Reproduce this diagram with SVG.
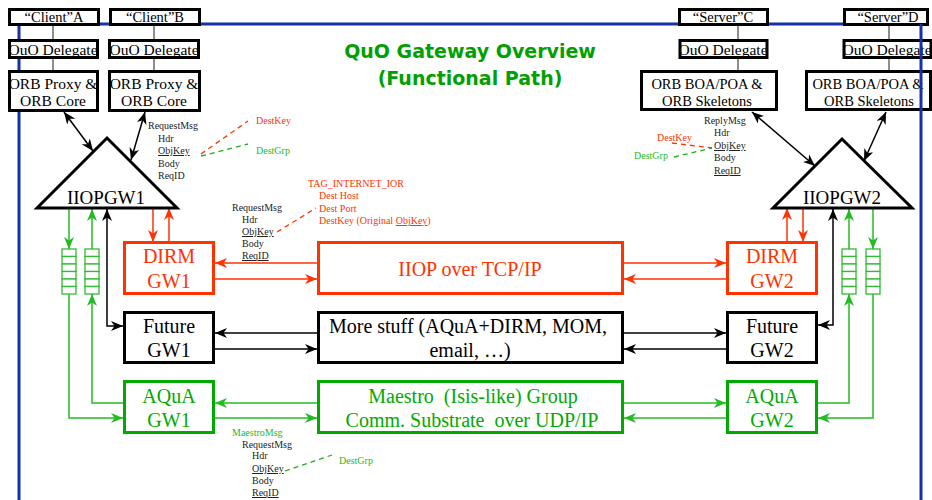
<svg xmlns="http://www.w3.org/2000/svg" width="932" height="500" viewBox="0 0 932 500">
<style>
.bx{fill:#fff;stroke:#000;stroke-width:3}
.rb{fill:#fff;stroke:#ff3300;stroke-width:3}
.gb{fill:#fff;stroke:#00aa00;stroke-width:3}
.t{font-family:"Liberation Serif","Times New Roman",serif;fill:#000}
.ts{font-size:15.5px;text-anchor:middle}
.tc{font-size:14.5px;text-anchor:middle}
.tb{font-size:20px;text-anchor:middle}
.sm{font-family:"Liberation Serif","Times New Roman",serif;font-size:10px;fill:#222}
.u{text-decoration:underline}
.red{fill:#ff3300}
.grn{fill:#00aa00}
.lg{fill:#22bb22}
.cl{stroke:#444;stroke-width:1.2;fill:none}
.ak{stroke:#000;stroke-width:1.5;fill:none}
.ar{stroke:#ff3300;stroke-width:1.5;fill:none}
.ag{stroke:#22bb22;stroke-width:1.5;fill:none}
.dr{stroke:#ff3300;stroke-width:1.3;stroke-dasharray:5,4;fill:none}
.dg{stroke:#22aa22;stroke-width:1.3;stroke-dasharray:5,4;fill:none}
.q{fill:#fff;stroke:#33bb33;stroke-width:1.3}
.blue{stroke:#1533a6;stroke-width:3;fill:none}
</style>
<defs>
<marker id="mk" viewBox="0 0 12 10" refX="12" refY="5" markerWidth="12" markerHeight="10" markerUnits="userSpaceOnUse" orient="auto-start-reverse"><path d="M0,0 L12,5 L0,10 L3.5,5 z" fill="#000"/></marker>
<marker id="mr" viewBox="0 0 12 10" refX="12" refY="5" markerWidth="12" markerHeight="10" markerUnits="userSpaceOnUse" orient="auto-start-reverse"><path d="M0,0 L12,5 L0,10 L3.5,5 z" fill="#ff3300"/></marker>
<marker id="mg" viewBox="0 0 12 10" refX="12" refY="5" markerWidth="12" markerHeight="10" markerUnits="userSpaceOnUse" orient="auto-start-reverse"><path d="M0,0 L12,5 L0,10 L3.5,5 z" fill="#22bb22"/></marker>
</defs>
<rect width="932" height="500" fill="#fff"/>
<g id="border">
<path class="blue" d="M19,500 L19,24 L921,24"/>
</g>
<text x="470" y="58" text-anchor="middle" font-family="'DejaVu Sans',sans-serif" font-weight="bold" font-size="19" fill="#00a000">QuO Gateway Overview</text>
<text x="470" y="85" text-anchor="middle" font-family="'DejaVu Sans',sans-serif" font-weight="bold" font-size="19" fill="#00a000">(Functional Path)</text>
<g id="connectors">
<path class="cl" d="M53,24V40M53,58V70M154,24V40M154,58V70M738,24V40M738,58V70M889,24V40M889,58V70"/>
<line class="ak" x1="64" y1="112" x2="93" y2="151" marker-start="url(#mk)" marker-end="url(#mk)"/>
<line class="ak" x1="145" y1="112" x2="131" y2="160" marker-start="url(#mk)" marker-end="url(#mk)"/>
<line class="ak" x1="752" y1="112" x2="815" y2="166" marker-start="url(#mk)" marker-end="url(#mk)"/>
<line class="ak" x1="886" y1="112" x2="864" y2="161" marker-start="url(#mk)" marker-end="url(#mk)"/>
<line class="ar" x1="153" y1="208" x2="153" y2="242" marker-end="url(#mr)"/>
<line class="ar" x1="169" y1="242" x2="169" y2="208" marker-end="url(#mr)"/>
<line class="ar" x1="787" y1="242" x2="787" y2="208" marker-end="url(#mr)"/>
<line class="ar" x1="803" y1="208" x2="803" y2="242" marker-end="url(#mr)"/>
<line class="ar" x1="317" y1="263" x2="215" y2="263" marker-end="url(#mr)"/>
<line class="ar" x1="215" y1="279" x2="317" y2="279" marker-end="url(#mr)"/>
<line class="ar" x1="623" y1="263" x2="726" y2="263" marker-end="url(#mr)"/>
<line class="ar" x1="726" y1="279" x2="624" y2="279" marker-end="url(#mr)"/>
<path class="ak" d="M107,209 L107,326 L123,326" marker-start="url(#mk)" marker-end="url(#mk)"/>
<path class="ak" d="M833,209 L833,325 L818,325" marker-start="url(#mk)" marker-end="url(#mk)"/>
<line class="ak" x1="317" y1="333" x2="215" y2="333" marker-end="url(#mk)"/>
<line class="ak" x1="215" y1="349" x2="317" y2="349" marker-end="url(#mk)"/>
<line class="ak" x1="623" y1="333" x2="726" y2="333" marker-end="url(#mk)"/>
<line class="ak" x1="726" y1="349" x2="624" y2="349" marker-end="url(#mk)"/>
<line class="ag" x1="69" y1="209" x2="69" y2="249" marker-end="url(#mg)"/>
<path class="ag" d="M69,294 L69,418 L123,418" marker-end="url(#mg)"/>
<path class="ag" d="M123,403 L92,403 L92,294" marker-end="url(#mg)"/>
<line class="ag" x1="92" y1="249" x2="92" y2="209" marker-end="url(#mg)"/>
<line class="ag" x1="873" y1="209" x2="873" y2="249" marker-end="url(#mg)"/>
<path class="ag" d="M873,294 L873,418 L818,418" marker-end="url(#mg)"/>
<path class="ag" d="M818,403 L849,403 L849,294" marker-end="url(#mg)"/>
<line class="ag" x1="849" y1="249" x2="849" y2="209" marker-end="url(#mg)"/>
<line class="ag" x1="317" y1="403" x2="215" y2="403" marker-end="url(#mg)"/>
<line class="ag" x1="215" y1="418" x2="317" y2="418" marker-end="url(#mg)"/>
<line class="ag" x1="623" y1="403" x2="726" y2="403" marker-end="url(#mg)"/>
<line class="ag" x1="726" y1="418" x2="624" y2="418" marker-end="url(#mg)"/>
<path class="dr" d="M201,154 L248,121"/>
<path class="dg" d="M201,156 L248,144"/>
<path class="dr" d="M672,143 L712,148"/>
<path class="dg" d="M674,157 L712,148"/>
<path class="dr" d="M277,232 L316,208"/>
<path class="dg" d="M285,471 L332,455"/>
</g>
<g id="clientA"><rect class="bx" x="9.5" y="9.5" width="89" height="15"/><text class="t tc" x="54" y="22">“Client”A</text></g>
<g id="ouoA"><rect class="bx" x="9.5" y="40.5" width="88" height="17"/><text class="t ts" x="53" y="55">OuO Delegate</text></g>
<g id="orbA"><rect class="bx" x="9.5" y="71.5" width="88" height="39"/><text class="t ts" x="53" y="89">ORB Proxy &amp;</text><text class="t ts" x="53" y="106">ORB Core</text></g>
<g id="clientB"><rect class="bx" x="110.5" y="9.5" width="89" height="15"/><text class="t tc" x="155" y="22">“Client”B</text></g>
<g id="ouoB"><rect class="bx" x="109.5" y="40.5" width="89" height="17"/><text class="t ts" x="154" y="55">OuO Delegate</text></g>
<g id="orbB"><rect class="bx" x="109.5" y="71.5" width="90" height="39"/><text class="t ts" x="154" y="89">ORB Proxy &amp;</text><text class="t ts" x="154" y="106">ORB Core</text></g>
<g id="serverC"><rect class="bx" x="679.5" y="9.5" width="88" height="15"/><text class="t tc" x="723" y="22">“Server”C</text></g>
<g id="ouoC"><rect class="bx" x="680" y="40.5" width="87" height="17"/><text class="t ts" x="723" y="55">OuO Delegate</text></g>
<g id="orbC"><rect class="bx" x="641.5" y="71.5" width="135" height="38"/><text class="t tc" x="707" y="89">ORB BOA/POA &amp;</text><text class="t tc" x="707" y="106">ORB Skeletons</text></g>
<g id="serverD"><rect class="bx" x="844.5" y="9.5" width="83" height="15"/><text class="t tc" x="888" y="22">“Server”D</text></g>
<g id="ouoD"><rect class="bx" x="844" y="40.5" width="87" height="17"/><text class="t ts" x="887" y="55">OuO Delegate</text></g>
<g id="orbD"><rect class="bx" x="806.5" y="71.5" width="124" height="38"/><text class="t tc" x="868" y="89">ORB BOA/POA &amp;</text><text class="t tc" x="869" y="106">ORB Skeletons</text></g>
<g id="iiopgw1"><polygon points="37,208 107,138 177,208" fill="#fff" stroke="#000" stroke-width="3"/><text class="t" font-size="19" text-anchor="middle" x="106" y="204">IIOPGW1</text></g>
<g id="iiopgw2"><polygon points="773,208 842,139 912,208" fill="#fff" stroke="#000" stroke-width="3"/><text class="t" font-size="19" text-anchor="middle" x="842" y="204">IIOPGW2</text></g>
<g id="queue1"><rect class="q" x="62" y="249" width="14" height="7.5"/><rect class="q" x="62" y="256.5" width="14" height="7.5"/><rect class="q" x="62" y="264" width="14" height="7.5"/><rect class="q" x="62" y="271.5" width="14" height="7.5"/><rect class="q" x="62" y="279" width="14" height="7.5"/><rect class="q" x="62" y="286.5" width="14" height="7.5"/></g>
<g id="queue2"><rect class="q" x="85" y="249" width="14" height="7.5"/><rect class="q" x="85" y="256.5" width="14" height="7.5"/><rect class="q" x="85" y="264" width="14" height="7.5"/><rect class="q" x="85" y="271.5" width="14" height="7.5"/><rect class="q" x="85" y="279" width="14" height="7.5"/><rect class="q" x="85" y="286.5" width="14" height="7.5"/></g>
<g id="queue3"><rect class="q" x="842" y="249" width="14" height="7.5"/><rect class="q" x="842" y="256.5" width="14" height="7.5"/><rect class="q" x="842" y="264" width="14" height="7.5"/><rect class="q" x="842" y="271.5" width="14" height="7.5"/><rect class="q" x="842" y="279" width="14" height="7.5"/><rect class="q" x="842" y="286.5" width="14" height="7.5"/></g>
<g id="queue4"><rect class="q" x="866" y="249" width="14" height="7.5"/><rect class="q" x="866" y="256.5" width="14" height="7.5"/><rect class="q" x="866" y="264" width="14" height="7.5"/><rect class="q" x="866" y="271.5" width="14" height="7.5"/><rect class="q" x="866" y="279" width="14" height="7.5"/><rect class="q" x="866" y="286.5" width="14" height="7.5"/></g>
<g id="dirmgw1"><rect class="rb" x="124.5" y="242.5" width="89" height="51"/><text class="t tb red" x="169" y="263">DIRM</text><text class="t tb red" x="169" y="288">GW1</text></g>
<g id="iiop"><rect class="rb" x="318.5" y="242.5" width="304" height="51"/><text class="t tb red" x="470" y="276">IIOP over TCP/IP</text></g>
<g id="dirmgw2"><rect class="rb" x="727.5" y="242.5" width="89" height="51"/><text class="t tb red" x="772" y="263">DIRM</text><text class="t tb red" x="772" y="288">GW2</text></g>
<g id="futuregw1"><rect class="bx" x="124.5" y="312.5" width="89" height="50"/><text class="t tb" x="169" y="333">Future</text><text class="t tb" x="169" y="357">GW1</text></g>
<g id="morestuff"><rect class="bx" x="318.5" y="312.5" width="304" height="50"/><text class="t tb" x="468" y="333">More stuff (AQuA+DIRM, MOM,</text><text class="t tb" x="470" y="357">email, …)</text></g>
<g id="futuregw2"><rect class="bx" x="727.5" y="312.5" width="89" height="50"/><text class="t tb" x="772" y="333">Future</text><text class="t tb" x="772" y="357">GW2</text></g>
<g id="aquagw1"><rect class="gb" x="124.5" y="381.5" width="89" height="51"/><text class="t tb grn" x="169" y="403">AQuA</text><text class="t tb grn" x="169" y="427">GW1</text></g>
<g id="maestro"><rect class="gb" x="318.5" y="381.5" width="304" height="51"/><text class="t tb grn" x="473" y="403" xml:space="preserve">Maestro  (Isis-like) Group</text><text class="t tb grn" x="472" y="427" xml:space="preserve">Comm. Substrate  over UDP/IP</text></g>
<g id="aquagw2"><rect class="gb" x="727.5" y="381.5" width="89" height="51"/><text class="t tb grn" x="772" y="403">AQuA</text><text class="t tb grn" x="772" y="427">GW2</text></g>
<g id="labels">
<text class="sm" x="148" y="129">RequestMsg</text>
<text class="sm" x="158" y="142">Hdr</text>
<text class="sm u" x="158" y="154">ObjKey</text>
<text class="sm" x="158" y="167">Body</text>
<text class="sm" x="158" y="179">ReqID</text>
<text class="sm red" x="256" y="124">DestKey</text>
<text class="sm lg" x="256" y="154">DestGrp</text>
<text class="sm" x="704" y="124">ReplyMsg</text>
<text class="sm" x="714" y="136">Hdr</text>
<text class="sm u" x="714" y="149">ObjKey</text>
<text class="sm" x="714" y="161">Body</text>
<text class="sm u" x="714" y="174">ReqID</text>
<text class="sm red" x="657" y="141">DestKey</text>
<text class="sm lg" x="634" y="159">DestGrp</text>
<text class="sm red" x="308" y="187">TAG_INTERNET_IOR</text>
<text class="sm red" x="319" y="199">Dest Host</text>
<text class="sm red" x="319" y="212">Dest Port</text>
<text class="sm red" x="319" y="224">DestKey (Original <tspan class="u">ObjKey</tspan>)</text>
<text class="sm" x="232" y="211">RequestMsg</text>
<text class="sm" x="242" y="223">Hdr</text>
<text class="sm u" x="242" y="235">ObjKey</text>
<text class="sm" x="242" y="247">Body</text>
<text class="sm u" x="242" y="259">ReqID</text>
<text class="sm lg" x="232" y="436">MaestroMsg</text>
<text class="sm" x="242" y="448">RequestMsg</text>
<text class="sm" x="252" y="459">Hdr</text>
<text class="sm u" x="252" y="472">ObjKey</text>
<text class="sm" x="252" y="484">Body</text>
<text class="sm u" x="252" y="496">ReqID</text>
<text class="sm lg" x="339" y="464">DestGrp</text>
</g>
<path class="blue" d="M921,24 L921,500"/>
</svg>
